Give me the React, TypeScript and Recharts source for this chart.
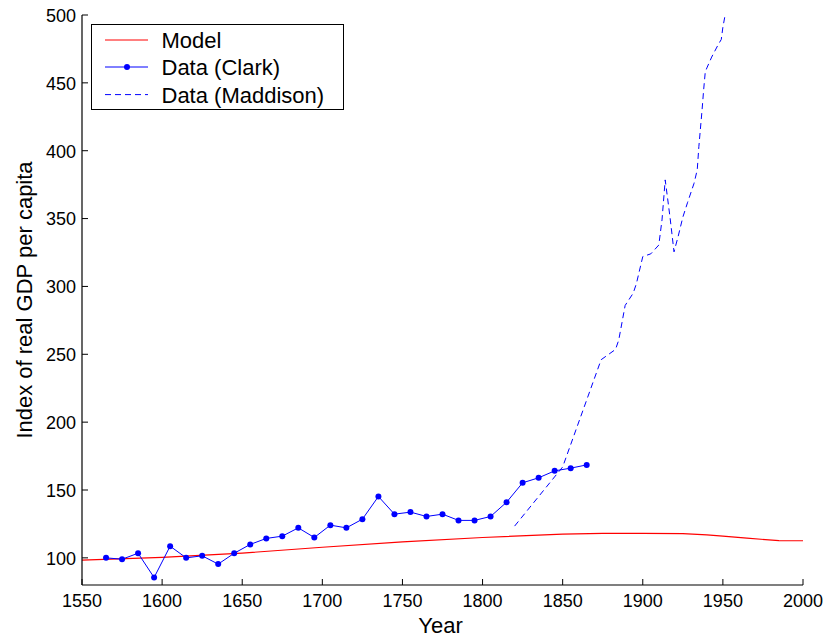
import React from "react";
import { LineChart, Line, XAxis, YAxis } from "recharts";

const xTicks = [1550, 1600, 1650, 1700, 1750, 1800, 1850, 1900, 1950, 2000];
const yTicks = [100, 150, 200, 250, 300, 350, 400, 450, 500];

const modelYears = [1550, 1600, 1650, 1700, 1750, 1800, 1850, 1875, 1900, 1925, 1940, 1950, 1965, 1985, 2000];
const modelValues = [98.3, 100.3, 103.5, 107.8, 111.8, 115, 117.5, 118.1, 118, 117.8, 117, 116, 114.5, 112.7, 112.6];

const clarkYears = [1565, 1575, 1585, 1595, 1605, 1615, 1625, 1635, 1645, 1655, 1665, 1675, 1685, 1695, 1705, 1715, 1725, 1735, 1745, 1755, 1765, 1775, 1785, 1795, 1805, 1815, 1825, 1835, 1845, 1855, 1865];
const clarkValues = [100, 99, 103.4, 85.5, 108.6, 100, 101.5, 95.4, 103.4, 109.9, 114.3, 116, 122.1, 115, 124.1, 122.1, 128.5, 145.2, 132.2, 133.7, 130.5, 132.2, 127.6, 127.6, 130.5, 141, 155.3, 159, 164.1, 166.1, 168.5];

const maddisonYears = [1820, 1850, 1874, 1883, 1885, 1889, 1894, 1896, 1899, 1900, 1905, 1910, 1912, 1914, 1917, 1919.5, 1922, 1925, 1928, 1932, 1934, 1935, 1937, 1938, 1939, 1940, 1943, 1947, 1949, 1950, 1951.4];
const maddisonValues = [123.4, 167, 246, 253.6, 260.5, 286, 295, 302, 317, 322, 324, 330.5, 349, 378.5, 351, 325.5, 336.5, 351, 362, 376, 386, 403, 430, 445, 458, 461, 469, 478, 482, 491, 500];

const seriesNames = ["Model", "Data (Clark)", "Data (Maddison)"];

const zip = (xs: number[], ys: number[]) => xs.map((x, i) => ({ year: x, value: ys[i] }));
const modelData = zip(modelYears, modelValues);
const clarkData = zip(clarkYears, clarkValues);
const maddisonData = zip(maddisonYears, maddisonValues);

const FONT = "'Liberation Sans', Arial, Helvetica, sans-serif";
const TICK_LEN = 6;

const BottomTick = (props: any) => {
  const { x, y, payload } = props;
  return (
    <g>
      <line x1={x} y1={y} x2={x} y2={y - TICK_LEN} stroke="#000" strokeWidth={1} />
      <text x={x} y={y + 21.5} textAnchor="middle" fontSize={18} fontFamily={FONT} fill="#000">
        {payload.value}
      </text>
    </g>
  );
};

const TopTick = (props: any) => {
  const { x, y } = props;
  return <line x1={x} y1={y} x2={x} y2={y + TICK_LEN} stroke="#000" strokeWidth={1} />;
};

const LeftTick = (props: any) => {
  const { x, y, payload } = props;
  return (
    <g>
      <line x1={x} y1={y} x2={x + TICK_LEN} y2={y} stroke="#000" strokeWidth={1} />
      <text x={x - 6} y={y} dy="0.38em" textAnchor="end" fontSize={18} fontFamily={FONT} fill="#000">
        {payload.value}
      </text>
    </g>
  );
};

const RightTick = (props: any) => {
  const { x, y } = props;
  return <line x1={x} y1={y} x2={x - TICK_LEN} y2={y} stroke="#000" strokeWidth={1} />;
};

const XLabel = (props: any) => {
  const vb = props.viewBox || {};
  return (
    <text x={vb.x + vb.width / 2 - 2} y={vb.y + 47.5} textAnchor="middle" fontSize={22} fontFamily={FONT} fill="#000">
      Year
    </text>
  );
};

const YLabel = (props: any) => {
  const vb = props.viewBox || {};
  const cx = 32;
  const cy = vb.y + vb.height / 2;
  return (
    <text x={cx} y={cy} transform={`rotate(-90, ${cx}, ${cy})`} textAnchor="middle" fontSize={22} fontFamily={FONT} fill="#000">
      Index of real GDP per capita
    </text>
  );
};

const LegendBox = () => {
  const rowY = [16, 43, 70.6];
  return (
    <div
      style={{
        position: "absolute",
        left: 90.7,
        top: 23.7,
        width: 253.6,
        height: 86,
        border: "1px solid #000",
        background: "#fff",
        boxSizing: "border-box",
      }}
    >
      <svg width={252} height={84} style={{ position: "absolute", left: 0, top: 0 }}>
        <line x1={13} y1={rowY[0] - 1} x2={56} y2={rowY[0] - 1} stroke="#ff0000" strokeWidth={1} />
        <line x1={13} y1={rowY[1] - 1} x2={56} y2={rowY[1] - 1} stroke="#0000ff" strokeWidth={1} />
        <circle cx={35} cy={rowY[1] - 1} r={3} fill="#0000ff" />
        <line x1={13} y1={rowY[2] - 1} x2={56} y2={rowY[2] - 1} stroke="#0000ff" strokeWidth={1} strokeDasharray="6 4" />
        {seriesNames.map((n, i) => (
          <text key={n} x={69.5} y={rowY[i] - 1} dy="0.36em" fontSize={22} fontFamily={FONT} fill="#000">
            {n}
          </text>
        ))}
      </svg>
    </div>
  );
};

export default function App() {
  return (
    <div style={{ position: "absolute", left: 0, top: 0, width: 827, height: 642 }}>
      <LineChart width={827} height={642} margin={{ top: 15, right: 24, bottom: 0, left: 0 }}>
        <XAxis
          dataKey="year"
          type="number"
          domain={[1550, 2000]}
          ticks={xTicks}
          interval={0}
          allowDataOverflow
          height={57}
          tickSize={0}
          tickMargin={0}
          tick={<BottomTick />}
          axisLine={{ stroke: "#000", strokeWidth: 1.2 }}
          label={<XLabel />}
        />
        <XAxis
          xAxisId="top"
          orientation="top"
          dataKey="year"
          type="number"
          domain={[1550, 2000]}
          ticks={xTicks}
          interval={0}
          allowDataOverflow
          height={0}
          tickSize={0}
          tickMargin={0}
          tick={<TopTick />}
          axisLine={{ stroke: "#000", strokeWidth: 1.2 }}
        />
        <YAxis
          type="number"
          domain={[80, 500]}
          ticks={yTicks}
          interval={0}
          allowDataOverflow
          width={82}
          tickSize={0}
          tickMargin={0}
          tick={<LeftTick />}
          axisLine={{ stroke: "#000", strokeWidth: 1.2 }}
          label={<YLabel />}
        />
        <YAxis
          yAxisId="right"
          orientation="right"
          type="number"
          domain={[80, 500]}
          ticks={yTicks}
          interval={0}
          allowDataOverflow
          width={0}
          tickSize={0}
          tickMargin={0}
          tick={<RightTick />}
          axisLine={{ stroke: "#000", strokeWidth: 1.2 }}
        />
        <Line
          data={modelData}
          dataKey="value"
          name={seriesNames[0]}
          type="linear"
          stroke="#ff0000"
          strokeWidth={1.2}
          dot={false}
          activeDot={false}
          isAnimationActive={false}
        />
        <Line
          data={clarkData}
          dataKey="value"
          name={seriesNames[1]}
          type="linear"
          stroke="#0000ff"
          strokeWidth={1}
          dot={{ r: 3, fill: "#0000ff", stroke: "#0000ff", strokeWidth: 0 }}
          activeDot={false}
          isAnimationActive={false}
        />
        <Line
          data={maddisonData}
          dataKey="value"
          name={seriesNames[2]}
          type="linear"
          stroke="#0000ff"
          strokeWidth={1}
          strokeDasharray="6 4"
          dot={false}
          activeDot={false}
          isAnimationActive={false}
        />
      </LineChart>
      <LegendBox />
    </div>
  );
}
